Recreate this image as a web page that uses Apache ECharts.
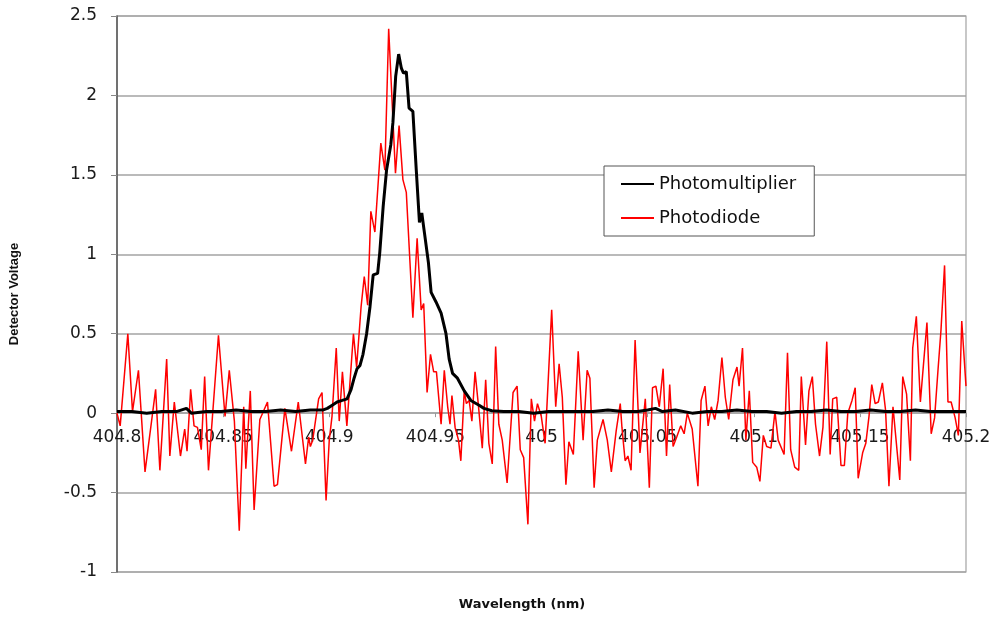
<!DOCTYPE html>
<html>
<head>
<meta charset="utf-8">
<script src="https://cdn.jsdelivr.net/npm/echarts@6/dist/echarts.min.js"></script>
<style>
  html, body { margin: 0; padding: 0; background: #fff; }
  #container { width: 995px; height: 620px; }
</style>
</head>
<body>
<div id="container"></div>
<script>
// Photomultiplier (black) - wavelength / voltage
var pmWave = [
  404.8000, 404.8070, 404.8140, 404.8210, 404.8280, 404.8327, 404.8350, 404.8421, 404.8491, 404.8561,
  404.8631, 404.8701, 404.8771, 404.8841, 404.8911, 404.8972, 404.8991, 404.9014, 404.9037, 404.9061,
  404.9084, 404.9103, 404.9117, 404.9131, 404.9145, 404.9159, 404.9176, 404.9192, 404.9207, 404.9228,
  404.9238, 404.9254, 404.9270, 404.9290, 404.9300, 404.9313, 404.9327, 404.9340, 404.9350, 404.9363,
  404.9376, 404.9394, 404.9410, 404.9425, 404.9436, 404.9449, 404.9467, 404.9480, 404.9503, 404.9527,
  404.9550, 404.9565, 404.9581, 404.9604, 404.9636, 404.9667, 404.9706, 404.9729, 404.9766, 404.9822,
  404.9893, 404.9963, 405.0033, 405.0103, 405.0173, 405.0243, 405.0313, 405.0383, 405.0453, 405.0500,
  405.0537, 405.0570, 405.0631, 405.0710, 405.0780, 405.0850, 405.0921, 405.0991, 405.1061, 405.1131,
  405.1201, 405.1271, 405.1341, 405.1411, 405.1481, 405.1551, 405.1621, 405.1692, 405.1762, 405.1832,
  405.1902, 405.2000
];
var pmVolt = [
  0.01, 0.01, 0.00, 0.01, 0.01, 0.03, 0.00, 0.01, 0.01, 0.02,
  0.01, 0.01, 0.02, 0.01, 0.02, 0.02, 0.03, 0.05, 0.07, 0.08,
  0.09, 0.15, 0.22, 0.28, 0.30, 0.37, 0.50, 0.67, 0.87, 0.88,
  1.01, 1.30, 1.53, 1.69, 1.83, 2.12, 2.26, 2.17, 2.14, 2.15,
  1.92, 1.90, 1.53, 1.20, 1.26, 1.13, 0.95, 0.76, 0.70, 0.63,
  0.50, 0.34, 0.25, 0.22, 0.14, 0.08, 0.05, 0.03, 0.015, 0.01,
  0.01, 0.00, 0.01, 0.01, 0.01, 0.01, 0.02, 0.01, 0.01, 0.02,
  0.03, 0.01, 0.02, 0.00, 0.01, 0.01, 0.02, 0.01, 0.01, 0.00,
  0.01, 0.01, 0.02, 0.01, 0.01, 0.02, 0.01, 0.01, 0.02, 0.01,
  0.01, 0.01
];

// Photodiode (red) - wavelength / voltage
var pdWave = [
  404.8000, 404.8015, 404.8051, 404.8073, 404.8101, 404.8132, 404.8160, 404.8182, 404.8202, 404.8234,
  404.8249, 404.8270, 404.8299, 404.8319, 404.8330, 404.8347, 404.8363, 404.8379, 404.8397, 404.8413,
  404.8431, 404.8478, 404.8509, 404.8529, 404.8553, 404.8576, 404.8597, 404.8607, 404.8628, 404.8646,
  404.8673, 404.8709, 404.8740, 404.8756, 404.8791, 404.8822, 404.8854, 404.8888, 404.8903, 404.8911,
  404.8922, 404.8950, 404.8966, 404.8985, 404.9000, 404.9013, 404.9033, 404.9047, 404.9062, 404.9083,
  404.9114, 404.9129, 404.9150, 404.9165, 404.9181, 404.9196, 404.9215, 404.9243, 404.9262, 404.9280,
  404.9312, 404.9329, 404.9347, 404.9363, 404.9394, 404.9414, 404.9433, 404.9445, 404.9461, 404.9477,
  404.9492, 404.9505, 404.9527, 404.9542, 404.9558, 404.9569, 404.9578, 404.9593, 404.9609, 404.9620,
  404.9636, 404.9646, 404.9659, 404.9672, 404.9687, 404.9702, 404.9721, 404.9737, 404.9752, 404.9768,
  404.9784, 404.9799, 404.9815, 404.9838, 404.9866, 404.9885, 404.9900, 404.9916, 404.9936, 404.9952,
  404.9967, 404.9981, 404.9999, 405.0017, 405.0048, 405.0067, 405.0083, 405.0098, 405.0115, 405.0129,
  405.0150, 405.0173, 405.0196, 405.0215, 405.0228, 405.0248, 405.0263, 405.0290, 405.0310, 405.0329,
  405.0352, 405.0371, 405.0379, 405.0394, 405.0407, 405.0422, 405.0441, 405.0464, 405.0489, 405.0508,
  405.0523, 405.0539, 405.0555, 405.0573, 405.0589, 405.0604, 405.0620, 405.0637, 405.0656, 405.0672,
  405.0687, 405.0710, 405.0737, 405.0752, 405.0770, 405.0785, 405.0800, 405.0816, 405.0832, 405.0850,
  405.0866, 405.0882, 405.0902, 405.0921, 405.0931, 405.0947, 405.0963, 405.0979, 405.0995, 405.1014,
  405.1029, 405.1045, 405.1061, 405.1081, 405.1100, 405.1115, 405.1143, 405.1159, 405.1174, 405.1193,
  405.1212, 405.1224, 405.1244, 405.1260, 405.1276, 405.1291, 405.1310, 405.1326, 405.1344, 405.1360,
  405.1372, 405.1391, 405.1411, 405.1427, 405.1443, 405.1463, 405.1478, 405.1492, 405.1513, 405.1528,
  405.1543, 405.1556, 405.1572, 405.1587, 405.1606, 405.1621, 405.1637, 405.1656, 405.1688, 405.1702,
  405.1720, 405.1738, 405.1749, 405.1766, 405.1785, 405.1816, 405.1836, 405.1852, 405.1868, 405.1882,
  405.1899, 405.1915, 405.1930, 405.1949, 405.1964, 405.1980, 405.2000
];
var pdVolt = [
  0.00, -0.08, 0.50, 0.01, 0.27, -0.37, -0.08, 0.15, -0.36, 0.34,
  -0.27, 0.07, -0.27, -0.10, -0.24, 0.15, -0.08, -0.09, -0.23, 0.23,
  -0.36, 0.49, -0.02, 0.27, -0.05, -0.74, 0.04, -0.35, 0.14, -0.61,
  -0.04, 0.07, -0.46, -0.45, 0.03, -0.24, 0.07, -0.32, -0.15, -0.21,
  -0.17, 0.09, 0.13, -0.55, -0.17, -0.02, 0.41, -0.05, 0.26, -0.08,
  0.50, 0.29, 0.67, 0.86, 0.68, 1.27, 1.14, 1.70, 1.53, 2.42,
  1.51, 1.81, 1.47, 1.39, 0.60, 1.10, 0.65, 0.69, 0.13, 0.37,
  0.26, 0.26, -0.07, 0.27, 0.04, -0.07, 0.11, -0.09, -0.17, -0.30,
  0.14, 0.06, 0.08, -0.05, 0.26, 0.06, -0.22, 0.21, -0.19, -0.32,
  0.42, -0.07, -0.17, -0.44, 0.13, 0.17, -0.23, -0.28, -0.70, 0.09,
  -0.05, 0.06, -0.02, -0.19, 0.65, 0.04, 0.31, 0.10, -0.45, -0.18,
  -0.26, 0.39, -0.17, 0.27, 0.22, -0.47, -0.17, -0.04, -0.17, -0.37,
  -0.11, 0.06, -0.09, -0.30, -0.27, -0.36, 0.46, -0.25, 0.09, -0.47,
  0.16, 0.17, 0.04, 0.28, -0.27, 0.18, -0.21, -0.15, -0.08, -0.13,
  0.00, -0.10, -0.46, 0.08, 0.17, -0.08, 0.04, -0.04, 0.08, 0.35,
  0.10, -0.04, 0.21, 0.29, 0.17, 0.41, -0.17, 0.14, -0.31, -0.34,
  -0.43, -0.14, -0.21, -0.22, 0.01, -0.17, -0.26, 0.38, -0.23, -0.34,
  -0.36, 0.23, -0.20, 0.14, 0.23, -0.07, -0.27, -0.09, 0.45, -0.26,
  0.09, 0.10, -0.33, -0.33, 0.00, 0.08, 0.16, -0.41, -0.25, -0.19,
  -0.02, 0.18, 0.06, 0.07, 0.19, 0.02, -0.46, 0.04, -0.42, 0.23,
  0.12, -0.30, 0.41, 0.61, 0.07, 0.57, -0.13, -0.03, 0.27, 0.52,
  0.93, 0.07, 0.07, -0.03, -0.14, 0.58, 0.17
];

var seriesNames = ['Photomultiplier', 'Photodiode'];
var yMin = -1, yMax = 2.5;

function pairs(w, v) {
    return w.map(function (x, i) { return [x, v[i]]; });
}

var labelFont = 'DejaVu Sans';
var gridGray = '#a3a3a3';
var gridTop = 16, gridBottom = 48;
var plotH = 620 - gridTop - gridBottom;

var chart = echarts.init(document.getElementById('container'));
chart.setOption({
    animation: false,
    backgroundColor: '#fff',
    grid: {
        left: 111, right: 29, top: gridTop, bottom: gridBottom,
        show: true, borderColor: gridGray, borderWidth: 1.2
    },
    legend: {
        data: seriesNames,
        orient: 'vertical',
        left: 604, top: 166,
        padding: [9, 18, 9, 16],
        itemWidth: 33, itemHeight: 14, itemGap: 16, itemTextGap: 6,
        itemStyle: { opacity: 0 },
        backgroundColor: '#fff',
        borderColor: '#555', borderWidth: 1,
        textStyle: { fontFamily: labelFont, fontSize: 18, color: '#111' }
    },
    xAxis: {
        type: 'value',
        min: 404.8, max: 405.2, interval: 0.05,
        // axis crosses at y = 0: move it up from the bottom of the grid
        offset: -plotH * (0 - yMin) / (yMax - yMin),
        axisLine: { onZero: false, lineStyle: { color: gridGray, width: 1.5 } },
        axisTick: { show: true, length: 4, lineStyle: { color: '#999' } },
        splitLine: { show: false },
        axisLabel: {
            margin: 16,
            fontFamily: labelFont, fontSize: 17, color: '#1a1a1a',
            showMinLabel: true, showMaxLabel: true,
            alignMinLabel: 'center', alignMaxLabel: 'center',
            formatter: function (v) { return String(parseFloat(v.toFixed(2))); }
        }
    },
    yAxis: {
        type: 'value',
        min: yMin, max: yMax, interval: 0.5,
        name: 'Detector Voltage',
        nameLocation: 'middle', nameGap: 96,
        nameTextStyle: { fontFamily: 'Liberation Sans', fontWeight: 'bold', fontSize: 13, color: '#111' },
        axisLine: { show: true, lineStyle: { color: '#555', width: 1.5 } },
        axisTick: { show: true, length: 6, lineStyle: { color: '#888' } },
        splitLine: { show: true, lineStyle: { color: gridGray, width: 1.5 } },
        axisLabel: { margin: 20, fontFamily: labelFont, fontSize: 17, color: '#1a1a1a' }
    },
    graphic: [{
        type: 'text',
        x: 522, y: 605,
        style: {
            text: 'Wavelength (nm)',
            fontFamily: labelFont, fontWeight: 'bold', fontSize: 13, fill: '#111',
            align: 'center', verticalAlign: 'middle'
        }
    }],
    series: [
        {
            name: seriesNames[1],
            type: 'line',
            data: pairs(pdWave, pdVolt),
            showSymbol: false, symbol: 'none',
            lineStyle: { color: '#ff0000', width: 1.5 },
            itemStyle: { color: '#ff0000' },
            z: 2
        },
        {
            name: seriesNames[0],
            type: 'line',
            data: pairs(pmWave, pmVolt),
            showSymbol: false, symbol: 'none',
            lineStyle: { color: '#000', width: 3 },
            itemStyle: { color: '#000' },
            z: 3
        }
    ]
});
</script>
</body>
</html>
